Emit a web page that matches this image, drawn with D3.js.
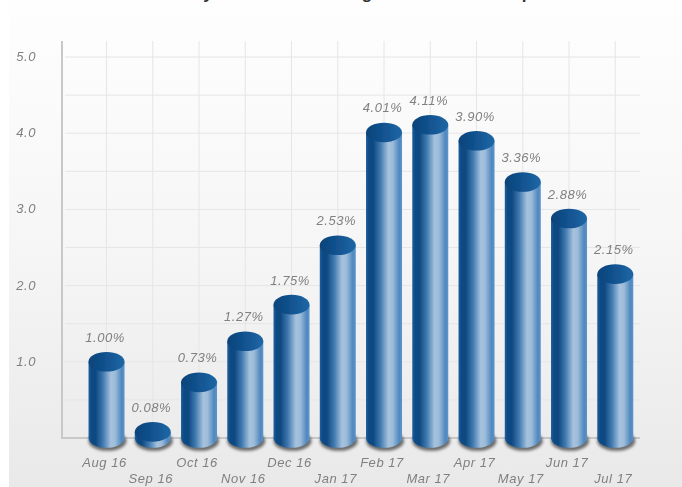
<!DOCTYPE html>
<html><head><meta charset="utf-8">
<script src="https://cdn.jsdelivr.net/npm/d3@7/dist/d3.min.js"></script>
<style>html,body{margin:0;padding:0;background:#fff;overflow:hidden}svg{display:block}text{font-family:"Liberation Sans",Arial,sans-serif}</style>
</head><body><div id="c"></div>
<script>
const categories=["Aug 16","Sep 16","Oct 16","Nov 16","Dec 16","Jan 17","Feb 17","Mar 17","Apr 17","May 17","Jun 17","Jul 17"];
const values=[1.00,0.08,0.73,1.27,1.75,2.53,4.01,4.11,3.90,3.36,2.88,2.15];
const yTicks=[1,2,3,4,5];
const gridTicks=[0.5,1,1.5,2,2.5,3,3.5,4,4.5,5];
const titleFragments=[["y",208],["g",367],["p",527]];
const W=682,H=487,rx=18,ry=9.8;
const svg=d3.select("#c").append("svg").attr("width",W).attr("height",H);
const defs=svg.append("defs");
const bg=defs.append("linearGradient").attr("id","bg").attr("x1",0).attr("y1",0).attr("x2",0).attr("y2",1);
[[0,"#fefefe"],[0.5,"#f6f6f6"],[1,"#e9e9e9"]].forEach(s=>bg.append("stop").attr("offset",s[0]).attr("stop-color",s[1]));
const g=defs.append("linearGradient").attr("id","cyl");
[[0,"#1f5f9c"],[0.08,"#0e4a85"],[0.2,"#0f4980"],[0.4,"#3f79b0"],[0.62,"#a6c2dd"],[0.74,"#9dbcd9"],[0.92,"#4f88bf"],[1,"#5c95cb"]].forEach(s=>g.append("stop").attr("offset",s[0]).attr("stop-color",s[1]));
const t=defs.append("linearGradient").attr("id","top").attr("x1",0).attr("y1",0).attr("x2",1).attr("y2",0);
[[0,"#0c4379"],[0.5,"#125390"],[1,"#1f67a6"]].forEach(s=>t.append("stop").attr("offset",s[0]).attr("stop-color",s[1]));
defs.append("filter").attr("id","bl").attr("x","-30%").attr("y","-100%").attr("width","160%").attr("height","300%").append("feGaussianBlur").attr("stdDeviation",1.8);
defs.append("filter").attr("id","soft").attr("x","-5%").attr("y","-5%").attr("width","110%").attr("height","110%").append("feGaussianBlur").attr("stdDeviation",0.5);
svg.append("rect").attr("x",9).attr("y",0).attr("width",W-9).attr("height",H).attr("fill","url(#bg)");
const x=d3.scaleBand().domain(categories).range([83.4,638.4]);
const y=d3.scaleLinear().domain([0,5]).range([438,57]);
const cx=d=>x(d)+x.bandwidth()/2;
const root=svg.append("g").attr("filter","url(#soft)");
const italic=s=>s.attr("font-size",13).attr("font-style","italic").attr("letter-spacing",0.55).attr("fill","#808080");
svg.selectAll(".tf").data(titleFragments).join("text").attr("x",d=>d[1]).attr("y",-1).attr("text-anchor","middle").attr("font-size",17).attr("font-weight","bold").attr("fill","#333").text(d=>d[0]);
root.selectAll(".hg").data(gridTicks).join("line").attr("x1",65).attr("x2",640).attr("y1",d=>y(d)).attr("y2",d=>y(d)).attr("stroke","#e6e6e6");
root.selectAll(".vg").data(categories).join("line").attr("x1",cx).attr("x2",cx).attr("y1",41).attr("y2",438).attr("stroke","#e6e6e6");
root.append("line").attr("x1",62).attr("x2",62).attr("y1",41).attr("y2",439).attr("stroke","#c8c8c8").attr("stroke-width",2);
root.append("line").attr("x1",61).attr("x2",640).attr("y1",438).attr("y2",438).attr("stroke","#c8c8c8").attr("stroke-width",2);
root.selectAll(".yl").data(yTicks).join("text").attr("x",36).attr("y",d=>y(d)+4).attr("text-anchor","end").call(italic).text(d=>d.toFixed(1));
const bars=root.selectAll(".b").data(categories.map((c,i)=>({c,v:values[i],i}))).join("g");
bars.append("ellipse").attr("cx",d=>cx(d.c)+1).attr("cy",y(0)+3).attr("rx",rx+1).attr("ry",ry).attr("fill","#000").attr("opacity",0.55).attr("filter","url(#bl)");
bars.append("path").attr("fill","url(#cyl)").attr("d",d=>{const c=cx(d.c),yt=y(d.v),yb=y(0);return `M${c-rx},${yt}L${c-rx},${yb}A${rx},${ry} 0 0 0 ${c+rx},${yb}L${c+rx},${yt}Z`;});
bars.append("ellipse").attr("cx",d=>cx(d.c)).attr("cy",d=>y(d.v)).attr("rx",rx).attr("ry",ry).attr("fill","url(#top)");
bars.append("text").attr("x",d=>cx(d.c)-1.5).attr("y",d=>y(d.v)-20).attr("text-anchor","middle").call(italic).text(d=>d.v.toFixed(2)+"%");
bars.append("text").attr("x",d=>cx(d.c)-2).attr("y",d=>d.i%2?483:467).attr("text-anchor","middle").call(italic).text(d=>d.c);
</script></body></html>
